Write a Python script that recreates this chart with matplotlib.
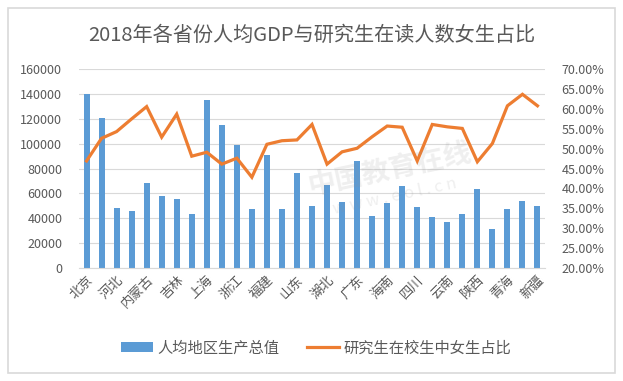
import matplotlib
matplotlib.use("Agg")
import matplotlib.pyplot as plt
from matplotlib.patches import Patch, Rectangle
from matplotlib.lines import Line2D
from matplotlib.ticker import FuncFormatter

plt.rcParams['font.family'] = ['Noto Sans CJK SC', 'DejaVu Sans']

provinces = ['北京', '天津', '河北', '山西', '内蒙古', '辽宁', '吉林', '黑龙江',
             '上海', '江苏', '浙江', '安徽', '福建', '江西', '山东', '河南',
             '湖北', '湖南', '广东', '广西', '海南', '重庆', '四川', '贵州',
             '云南', '西藏', '陕西', '甘肃', '青海', '宁夏', '新疆']

gdp_per_capita = [140211, 120711, 47772, 45328, 68302, 58008, 55611, 43274,
                  134982, 115168, 98643, 47712, 91197, 47434, 76267, 50152,
                  66616, 52949, 86412, 41489, 51955, 65933, 48883, 41244,
                  37136, 43398, 63477, 31336, 47689, 54094, 49475]

female_ratio = [46.9, 52.6, 54.3, 57.5, 60.6, 52.9, 58.7, 48.1,
                49.1, 46.1, 47.6, 42.8, 51.1, 52.0, 52.2, 56.1,
                46.1, 49.2, 50.1, 53.0, 55.7, 55.4, 46.9, 56.1,
                55.5, 55.1, 46.7, 51.3, 60.8, 63.7, 60.8]

left_ticks = [0, 20000, 40000, 60000, 80000, 100000, 120000, 140000, 160000]
right_ticks = [0.20, 0.25, 0.30, 0.35, 0.40, 0.45, 0.50, 0.55, 0.60, 0.65, 0.70]

blue = '#5B9BD5'
orange = '#ED7D31'
text_col = '#595959'

fig = plt.figure(figsize=(6.23, 3.81), dpi=100)
fig.patches.append(Rectangle((8 / 623, 1 - 373 / 381), 607 / 623, 365 / 381,
                             transform=fig.transFigure, fill=False,
                             edgecolor='#D9D9D9', linewidth=1.2, zorder=0))

ax = fig.add_axes([79 / 623, 113.3 / 381, 466 / 623, 198.4 / 381])
ax.set_facecolor('none')
x = list(range(len(provinces)))
ax.bar(x, gdp_per_capita, width=0.4, color=blue, zorder=2)
ax.set_xlim(-0.5, len(provinces) - 0.5)
ax.set_ylim(0, 160000)
ax.set_yticks(left_ticks)
ax.tick_params(axis='y', length=0, labelsize=9, labelcolor=text_col, pad=12)
ax.grid(axis='y', color='#D9D9D9', linewidth=0.8, zorder=0)
ax.set_axisbelow(True)
for s in ['top', 'right', 'left']:
    ax.spines[s].set_visible(False)
ax.spines['bottom'].set_color('#D9D9D9')

# only every second province gets a label, as in the original
ax.set_xticks(x[::2])
ax.set_xticklabels(provinces[::2], rotation=45, ha='right', va='top',
                   rotation_mode='anchor', fontsize=9.5, color=text_col)
ax.tick_params(axis='x', length=0, pad=4)

ax2 = ax.twinx()
ax2.plot(x, [v / 100 for v in female_ratio], color=orange, linewidth=2.3,
         solid_joinstyle='miter', zorder=3)
ax2.set_ylim(0.2, 0.7)
ax2.set_yticks(right_ticks)
ax2.yaxis.set_major_formatter(FuncFormatter(lambda v, p: f'{v * 100:.2f}%'))
ax2.tick_params(axis='y', length=0, labelsize=9, labelcolor=text_col, pad=12)
for s in ['top', 'right', 'left', 'bottom']:
    ax2.spines[s].set_visible(False)

fig.text(0.5, 1 - 35 / 381, '2018年各省份人均GDP与研究生在读人数女生占比',
         ha='center', va='center', fontsize=14.5, color=text_col)

# watermark
fig.text(390 / 623, 1 - 170 / 381, '中国教育在线', ha='center', va='center',
         fontsize=20, fontweight='bold', color='#909090', alpha=0.14, rotation=12, zorder=1)
fig.text(395 / 623, 1 - 196 / 381, 'w w w . e o l . c n', ha='center', va='center',
         fontsize=12, color='#909090', alpha=0.14, rotation=12, zorder=1)

handles = [Patch(facecolor=blue), Line2D([0], [0], color=orange, linewidth=2.3)]
fig.legend(handles, ['人均地区生产总值', '研究生在校生中女生占比'],
           loc='center', bbox_to_anchor=(0.507, 1 - 348 / 381), ncol=2,
           frameon=False, fontsize=11, labelcolor=text_col,
           handlelength=2.1, handleheight=0.55, handletextpad=0.3, columnspacing=1.8)

fig.savefig('out.png', dpi=100)
